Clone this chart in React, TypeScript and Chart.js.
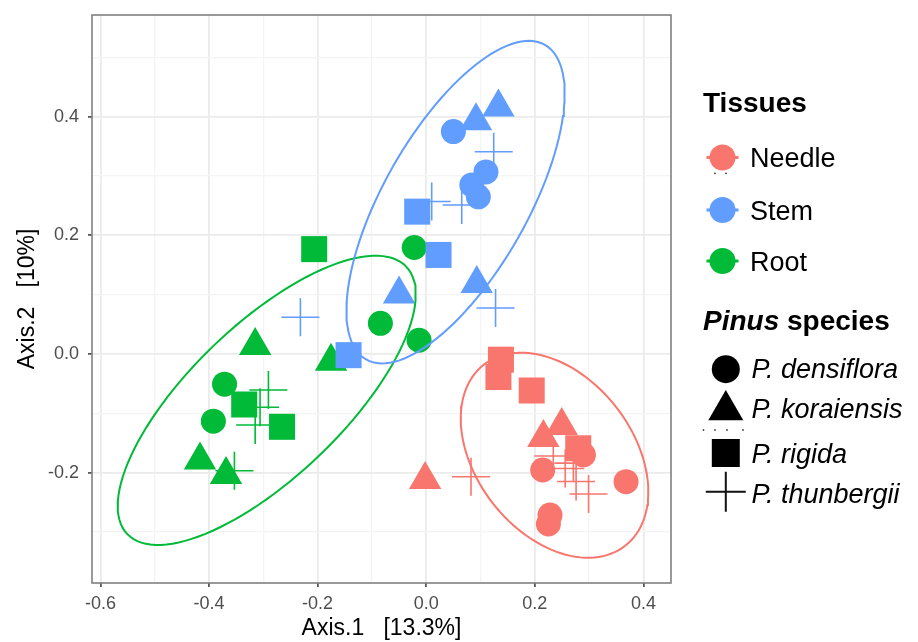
import React, { useEffect, useRef } from 'react';
import { Chart, registerables } from 'chart.js';

Chart.register(...registerables);

// ---------- data ----------
const TISSUES = ['Needle', 'Stem', 'Root'];
const TISSUE_COLORS = ['#F8766D', '#619CFF', '#00BA38'];
const SPECIES = ['P. densiflora', 'P. koraiensis', 'P. rigida', 'P. thunbergii'];
const SPECIES_STYLES = ['circle', 'triangle', 'rect', 'cross'];

const X_GRID = [-0.6, -0.5, -0.4, -0.3, -0.2, -0.1, 0.0, 0.1, 0.2, 0.3, 0.4];
const Y_GRID = [-0.3, -0.2, -0.1, 0.0, 0.1, 0.2, 0.3, 0.4, 0.5];
const X_RANGE = [-0.6155, 0.4508];
const Y_RANGE = [-0.3862, 0.5716];

const X_TITLE = 'Axis.1   [13.3%]';
const Y_TITLE = 'Axis.2   [10%]';

// Needle
const needleDensiflora = [[0.2895, -0.170], [0.2145, -0.1956], [0.368, -0.2153], [0.228, -0.2715], [0.225, -0.2867]];
const needleKoraiensis = [[0.2158, -0.1413], [0.2495, -0.121], [-0.002, -0.212]];
const needleRigida = [[0.1376, -0.0096], [0.133, -0.0388], [0.1943, -0.0616], [0.280, -0.159]];
const needleThunbergii = [[0.0825, -0.207], [0.234, -0.172], [0.256, -0.193], [0.271, -0.184], [0.276, -0.215], [0.299, -0.236]];
// Stem
const stemDensiflora = [[0.050, 0.375], [0.110, 0.307], [0.084, 0.285], [0.096, 0.265]];
const stemKoraiensis = [[0.133, 0.416], [0.0917, 0.393], [0.093, 0.1186], [-0.050, 0.101]];
const stemRigida = [[-0.0166, 0.240], [0.0227, 0.167], [-0.143, -0.002]];
const stemThunbergii = [[0.1243, 0.341], [0.0101, 0.257], [0.0654, 0.2513], [0.1277, 0.0776], [-0.2317, 0.0619]];
// Root
const rootDensiflora = [[-0.0221, 0.1796], [-0.0844, 0.0517], [-0.0132, 0.0231], [-0.3714, -0.0509], [-0.392, -0.1133]];
const rootKoraiensis = [[-0.315, 0.014], [-0.1753, -0.0124], [-0.4166, -0.179], [-0.3687, -0.2035]];
const rootRigida = [[-0.2063, 0.1768], [-0.3352, -0.0852], [-0.2655, -0.1228]];
const rootThunbergii = [[-0.2906, -0.0607], [-0.306, -0.0899], [-0.315, -0.1197], [-0.3532, -0.1968]];

const GROUPS = [
  [needleDensiflora, needleKoraiensis, needleRigida, needleThunbergii],
  [stemDensiflora, stemKoraiensis, stemRigida, stemThunbergii],
  [rootDensiflora, rootKoraiensis, rootRigida, rootThunbergii],
];

// 95% ellipses: centre, first and second conjugate semi-axis vectors (data units)
const needleEllipse = [0.2363, -0.1707, 0.1302, -0.1527, 0.1135, 0.0812];
const stemEllipse = [0.054, 0.256, 0.1646, 0.2653, -0.1153, 0.0600];
const rootEllipse = [-0.2937, -0.0782, 0.2567, 0.2256, -0.0972, 0.0927];
const ELLIPSES = [needleEllipse, stemEllipse, rootEllipse];

// ---------- helpers ----------
const FONT = '"Liberation Sans", Arial, Helvetica, sans-serif';
const isMajor = (v: number) => Math.abs(Math.round(v * 10)) % 2 === 0;

function ellipsePath(e: number[]) {
  const [cx, cy, ux, uy, vx, vy] = e;
  const pts: { x: number; y: number }[] = [];
  for (let i = 0; i <= 120; i++) {
    const t = (i / 120) * Math.PI * 2;
    pts.push({ x: cx + ux * Math.cos(t) + vx * Math.sin(t), y: cy + uy * Math.cos(t) + vy * Math.sin(t) });
  }
  return pts;
}

const POINT_RADII: Record<string, number> = { circle: 12.5, triangle: 18.7, rect: 18.4, cross: 19 };

const panelAndLegend = {
  id: 'panelAndLegend',
  afterDraw(chart: any) {
    const { ctx, chartArea } = chart;
    ctx.save();
    // panel border
    ctx.strokeStyle = '#808080';
    ctx.lineWidth = 1.6;
    ctx.strokeRect(chartArea.left, chartArea.top, chartArea.right - chartArea.left, chartArea.bottom - chartArea.top);

    // legend
    ctx.fillStyle = '#000';
    ctx.textBaseline = 'alphabetic';
    ctx.textAlign = 'left';
    ctx.font = `bold 28px ${FONT}`;
    ctx.fillText('Tissues', 703, 111.5);

    const tissueY = [157.5, 210, 261];
    const tissueBase = [166.7, 219.5, 270.5];
    TISSUES.forEach((t, i) => {
      const y = tissueY[i];
      ctx.strokeStyle = TISSUE_COLORS[i];
      ctx.lineWidth = 3;
      ctx.beginPath();
      ctx.moveTo(706.5, y);
      ctx.lineTo(738.5, y);
      ctx.stroke();
      ctx.fillStyle = TISSUE_COLORS[i];
      ctx.beginPath();
      ctx.arc(722.5, y, 13, 0, Math.PI * 2);
      ctx.fill();
      ctx.fillStyle = '#000';
      ctx.font = `27px ${FONT}`;
      ctx.fillText(t, 750, tissueBase[i]);
    });
    // tiny dots under Needle key
    ctx.fillStyle = '#333';
    [715, 726].forEach((x) => { ctx.beginPath(); ctx.arc(x, 173.3, 0.9, 0, Math.PI * 2); ctx.fill(); });

    ctx.fillStyle = '#000';
    ctx.font = `italic bold 28px ${FONT}`;
    ctx.fillText('Pinus', 703, 330);
    const w = ctx.measureText('Pinus').width;
    ctx.font = `bold 28px ${FONT}`;
    ctx.fillText(' species', 703 + w, 330);

    const sx = 725.8;
    const specY = [369.2, 410.2, 453, 491.7];
    const specBase = [378.3, 418, 462.5, 503];
    SPECIES.forEach((s, i) => {
      const y = specY[i];
      ctx.fillStyle = '#000';
      ctx.strokeStyle = '#111';
      const style = SPECIES_STYLES[i];
      ctx.beginPath();
      if (style === 'circle') {
        ctx.arc(sx, y, 14, 0, Math.PI * 2);
        ctx.fill();
      } else if (style === 'triangle') {
        const r = 20.2;
        for (let k = 0; k < 3; k++) {
          const a = (k * 2 * Math.PI) / 3;
          const px = sx + Math.sin(a) * r;
          const py = y - Math.cos(a) * r;
          if (k === 0) ctx.moveTo(px, py); else ctx.lineTo(px, py);
        }
        ctx.closePath();
        ctx.fill();
      } else if (style === 'rect') {
        ctx.rect(sx - 14, y - 14, 28, 28);
        ctx.fill();
      } else {
        ctx.lineWidth = 2;
        ctx.moveTo(sx - 20, y);
        ctx.lineTo(sx + 20, y);
        ctx.moveTo(sx, y - 20);
        ctx.lineTo(sx, y + 20);
        ctx.stroke();
      }
      ctx.fillStyle = '#000';
      ctx.font = `italic 27px ${FONT}`;
      ctx.fillText(s, 751.5, specBase[i]);
    });
    // dotted separator under koraiensis
    ctx.fillStyle = '#444';
    [703.5, 715, 727, 743].forEach((x) => { ctx.beginPath(); ctx.arc(x, 430, 0.9, 0, Math.PI * 2); ctx.fill(); });
    ctx.restore();
  },
};

export default function App() {
  const ref = useRef<HTMLCanvasElement | null>(null);

  useEffect(() => {
    document.body.style.margin = '0';
    const canvas = ref.current;
    if (!canvas) return;

    const datasets: any[] = [];
    ELLIPSES.forEach((e, i) => {
      datasets.push({
        type: 'scatter',
        label: TISSUES[i] + ' ellipse',
        data: ellipsePath(e),
        showLine: true,
        borderColor: TISSUE_COLORS[i],
        borderWidth: 2,
        pointRadius: 0,
        fill: false,
        tension: 0,
        order: 0,
      });
    });
    GROUPS.forEach((g, ti) => {
      g.forEach((pts, si) => {
        const style = SPECIES_STYLES[si];
        datasets.push({
          label: TISSUES[ti] + ' ' + SPECIES[si],
          data: pts.map(([x, y]) => ({ x, y })),
          pointStyle: style,
          pointRadius: POINT_RADII[style],
          backgroundColor: TISSUE_COLORS[ti],
          borderColor: TISSUE_COLORS[ti],
          borderWidth: style === 'cross' ? 1.6 : 0,
          order: ti + 1,
        });
      });
    });

    const chart = new Chart(canvas, {
      type: 'scatter',
      data: { datasets },
      plugins: [panelAndLegend],
      options: {
        animation: false,
        responsive: false,
        devicePixelRatio: 1,
        events: [],
        layout: { autoPadding: false, padding: { left: 0, right: 247, top: 15, bottom: 0 } },
        plugins: { legend: { display: false }, tooltip: { enabled: false } },
        scales: {
          x: {
            type: 'linear',
            min: X_RANGE[0],
            max: X_RANGE[1],
            afterBuildTicks: (axis: any) => { axis.ticks = X_GRID.map((value) => ({ value })); },
            afterFit: (axis: any) => { axis.height = 59; axis.paddingLeft = 0; axis.paddingRight = 0; },
            border: { display: false },
            grid: {
              color: (c: any) => (isMajor(c.tick.value) ? '#EBEBEB' : '#F4F4F4'),
              lineWidth: (c: any) => (isMajor(c.tick.value) ? 1.8 : 1.3),
              tickColor: (c: any) => (isMajor(c.tick.value) ? '#444' : 'rgba(0,0,0,0)'),
              tickWidth: 1.6,
              tickLength: 4,
            },
            ticks: {
              autoSkip: false,
              maxRotation: 0,
              padding: 6,
              color: '#4D4D4D',
              font: { family: FONT, size: 18 },
              callback: (v: any) => (isMajor(Number(v)) ? Number(v).toFixed(1) : ''),
            },
            title: {
              display: true,
              text: X_TITLE,
              color: '#000',
              font: { family: FONT, size: 23 },
              padding: { top: 0, bottom: 0 },
            },
          },
          y: {
            type: 'linear',
            min: Y_RANGE[0],
            max: Y_RANGE[1],
            afterBuildTicks: (axis: any) => { axis.ticks = Y_GRID.map((value) => ({ value })); },
            afterFit: (axis: any) => { axis.width = 92; axis.paddingTop = 0; axis.paddingBottom = 0; },
            border: { display: false },
            grid: {
              color: (c: any) => (isMajor(c.tick.value) ? '#EBEBEB' : '#F4F4F4'),
              lineWidth: (c: any) => (isMajor(c.tick.value) ? 1.8 : 1.3),
              tickColor: (c: any) => (isMajor(c.tick.value) ? '#444' : 'rgba(0,0,0,0)'),
              tickWidth: 1.6,
              tickLength: 4,
            },
            ticks: {
              autoSkip: false,
              padding: 9,
              color: '#4D4D4D',
              font: { family: FONT, size: 18 },
              callback: (v: any) => (isMajor(Number(v)) ? Number(v).toFixed(1) : ''),
            },
            title: {
              display: true,
              text: Y_TITLE,
              color: '#000',
              font: { family: FONT, size: 23 },
              padding: { top: 14, bottom: 0 },
            },
          },
        },
      } as any,
    });
    return () => chart.destroy();
  }, []);

  return (
    <div style={{ width: 918, height: 642, background: '#fff' }}>
      <canvas ref={ref} width={918} height={642} />
    </div>
  );
}
